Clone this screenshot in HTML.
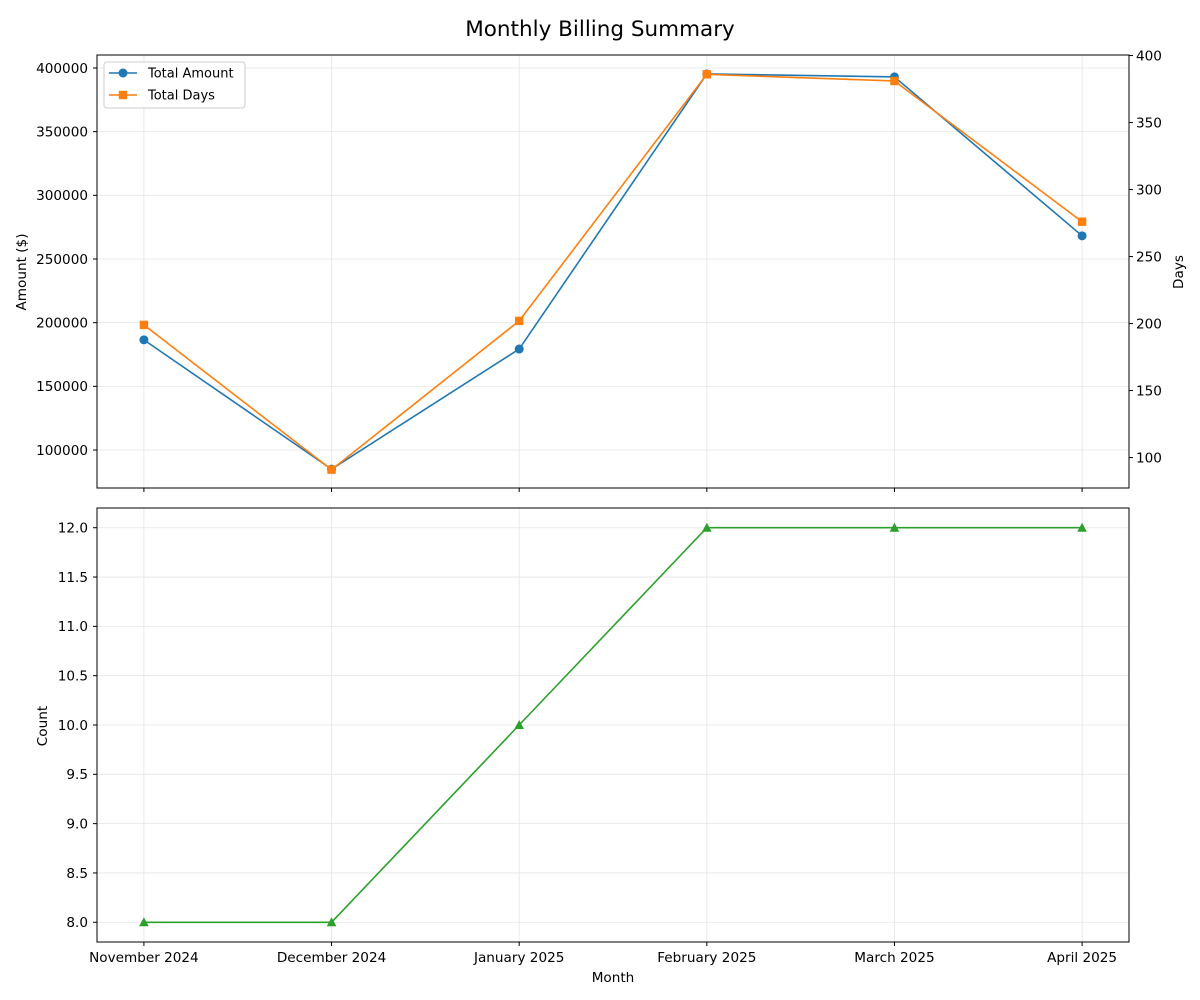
<!DOCTYPE html>
<html><head><meta charset="utf-8"><style>
body{margin:0;background:#fff}
svg{display:block;font-family:"DejaVu Sans","Liberation Sans",sans-serif}
</style></head><body>
<svg id="chart" width="1200" height="1000"></svg>
<script>
const months=["November 2024","December 2024","January 2025","February 2025","March 2025","April 2025"];
const amounts=[186500,85000,179300,395300,393000,268200];
const days=[199,91,202,386,381,276];
const counts=[8,8,10,12,12,12];
const amtTicks=[100000,150000,200000,250000,300000,350000,400000];
const dayTicks=[100,150,200,250,300,350,400];
const cntTicks=[8.0,8.5,9.0,9.5,10.0,10.5,11.0,11.5,12.0];

const svg=document.getElementById('chart');
const NS='http://www.w3.org/2000/svg';
function el(t,a,txt,p){const e=document.createElementNS(NS,t);for(const k in a)e.setAttribute(k,a[k]);if(txt!=null)e.textContent=txt;(p||svg).appendChild(e);return e;}
const L=97,R=1129;
const x=i=>L+(i+0.25)/5.5*(R-L);
const T1=55,B1=488,T2=508,B2=942;
const yA=v=>B1-(v-70170)/(410200-70170)*(B1-T1);
const yD=v=>B1-(v-77.3)/(400.4-77.3)*(B1-T1);
const yC=v=>B2-(v-7.8)/(12.2-7.8)*(B2-T2);
const FS=13.6;

let t=el('text',{x:600,y:36,'text-anchor':'middle','font-size':21.5,fill:'#000'},'Monthly Billing Summary');



function grid(top,bot,yf,ticks,fmt){
  months.forEach((m,i)=>{
    const g=el('line',{x1:x(i),x2:x(i),y1:top,y2:bot,stroke:'#e5e5e5','stroke-width':0.8});
    
    
    el('line',{x1:x(i),x2:x(i),y1:bot,y2:bot+4,stroke:'#000'});
  });
  ticks.forEach(v=>{
    const y=yf(v);
    const g=el('line',{x1:L,x2:R,y1:y,y2:y,stroke:'#e5e5e5','stroke-width':0.8});
    
    
    el('line',{x1:L-4,x2:L,y1:y,y2:y,stroke:'#000'});
    const lb=el('text',{x:L-9,y:y+4.8,'text-anchor':'end','font-size':FS},fmt(v));
    
    
  });
}
grid(T1,B1,yA,amtTicks,v=>String(v));
grid(T2,B2,yC,cntTicks,v=>v.toFixed(1));
dayTicks.forEach(v=>{
  const y=yD(v);
  el('line',{x1:R,x2:R+4,y1:y,y2:y,stroke:'#000'});
  const lb=el('text',{x:R+7,y:y+4.8,'font-size':FS},String(v));
  
  
});
months.forEach((m,i)=>{
  const lb=el('text',{x:x(i),y:962,'text-anchor':'middle','font-size':FS},m);
  
  
});

function series(vals,yf,color,marker,name){
  const pl=el('polyline',{points:vals.map((v,i)=>x(i)+','+yf(v)).join(' '),fill:'none',stroke:color,'stroke-width':1.6});
  
  
  vals.forEach((v,i)=>{
    const cx=x(i),cy=yf(v);let m;
    if(marker==='o')m=el('circle',{cx,cy,r:4.5,fill:color});
    else if(marker==='s')m=el('rect',{x:cx-4.2,y:cy-4.2,width:8.4,height:8.4,fill:color});
    else m=el('polygon',{points:`${cx},${cy-5} ${cx-4.8},${cy+4} ${cx+4.8},${cy+4}`,fill:color});
    
    
  });
}
series(amounts,yA,'#1f77b4','o','total-amount');
series(days,yD,'#ff7f0e','s','total-days');
series(counts,yC,'#2ca02c','^','count');

[[T1,B1,'top-axes'],[T2,B2,'bottom-axes']].forEach(([a,b,n])=>{
  const r=el('rect',{x:L,y:a,width:R-L,height:b-a,fill:'none',stroke:'#000','stroke-width':1});
  
  
});

let yl=el('text',{x:26,y:272,'text-anchor':'middle','font-size':FS,transform:'rotate(-90 26 272)'},'Amount ($)');


yl=el('text',{x:1183,y:272,'text-anchor':'middle','font-size':FS,transform:'rotate(-90 1183 272)'},'Days');


yl=el('text',{x:47,y:726,'text-anchor':'middle','font-size':FS,transform:'rotate(-90 47 726)'},'Count');


yl=el('text',{x:613,y:982,'text-anchor':'middle','font-size':FS},'Month');



const lg=el('g',{});


el('rect',{x:104,y:62,width:141,height:46,rx:3,fill:'#fff',stroke:'#ccc'},null,lg);
[['Total Amount','#1f77b4','o',73],['Total Days','#ff7f0e','s',95]].forEach(([n,c,m,y])=>{
  el('line',{x1:109,x2:137,y1:y,y2:y,stroke:c,'stroke-width':1.6},null,lg);
  if(m==='o')el('circle',{cx:123,cy:y,r:4.5,fill:c},null,lg);
  else el('rect',{x:118.8,y:y-4.2,width:8.4,height:8.4,fill:c},null,lg);
  const tx=el('text',{x:148,y:y+4.5,'font-size':13},n,lg);
  
  
});
</script>
</body></html>
